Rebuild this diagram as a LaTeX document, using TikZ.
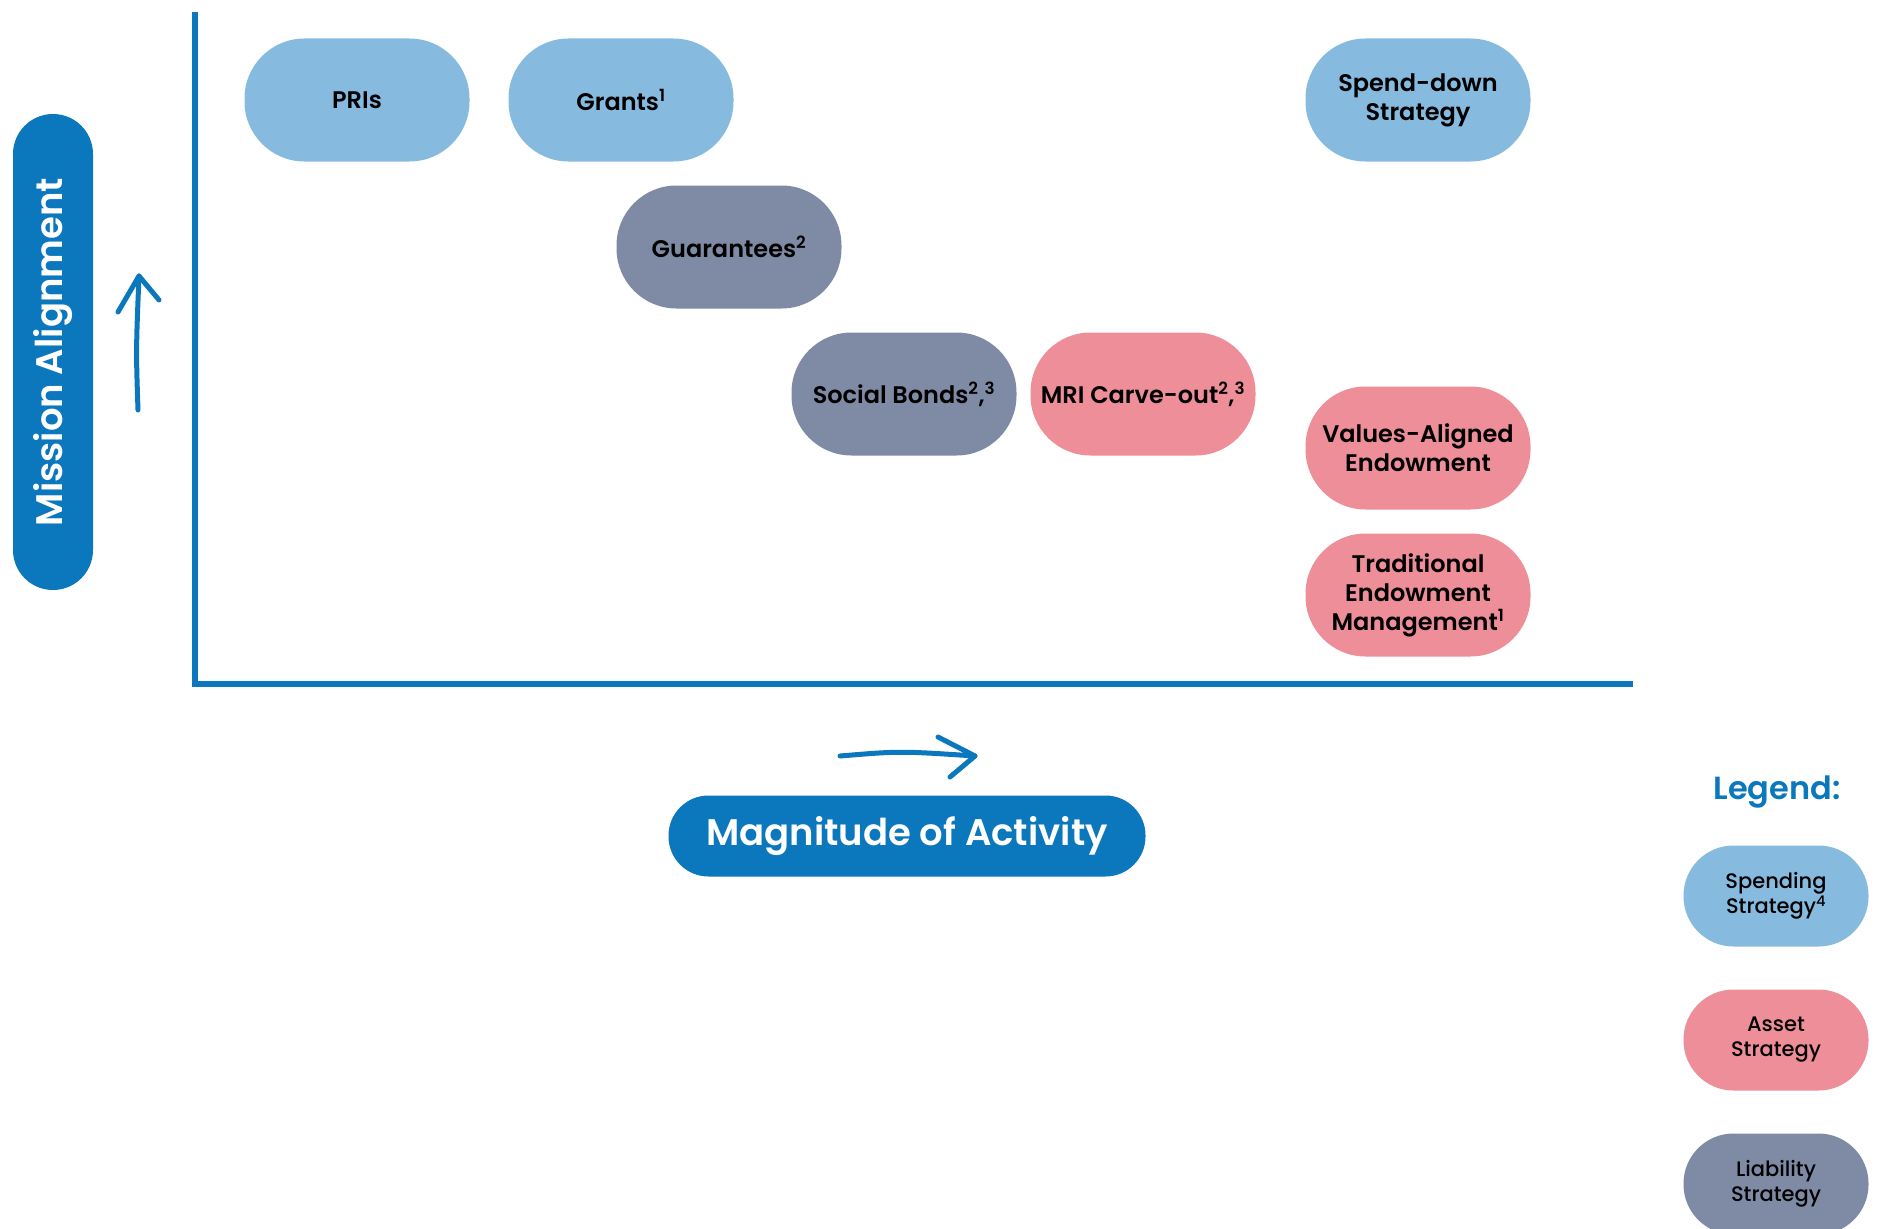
\documentclass[tikz,border=0pt]{standalone}
\usepackage{fontspec}
\setmainfont{Poppins}[BoldFont=Poppins SemiBold]
\newfontfamily\legfont{Poppins Medium}
\usepackage{xcolor}
\usetikzlibrary{calc}

\definecolor{mainblue}{HTML}{0B77BD}
\definecolor{spendblue}{HTML}{87BADF}
\definecolor{assetpink}{HTML}{ED8E98}
\definecolor{liabgray}{HTML}{7F8AA5}

\begin{document}
\begin{tikzpicture}[x=1pt,y=-1pt,
  pill/.style={rounded corners=60pt,minimum width=225pt,minimum height=123pt,
    inner sep=0pt,align=center,text=black,font=\fontsize{24}{29}\selectfont\bfseries},
  spend/.style={pill,fill=spendblue},
  asset/.style={pill,fill=assetpink},
  liab/.style={pill,fill=liabgray},
  legpill/.style={rounded corners=50pt,minimum width=185pt,minimum height=101pt,
    inner sep=0pt,align=center,text=black,font=\fontsize{21}{25}\selectfont\legfont},
  bar/.style={fill=mainblue,text=white,inner sep=0pt,
    font=\fontsize{37}{40}\selectfont\bfseries},
  axis/.style={draw=mainblue,line width=6pt},
  hand/.style={draw=mainblue,line width=5pt,line cap=round,line join=round}]

\useasboundingbox (0,0) rectangle (1878,1228);

% axes
\coordinate (ytop) at (195,12);
\coordinate (o) at (195,684);
\coordinate (xend) at (1633,684);
\draw [axis] (ytop) -- (o) -- (xend);

% strategies
\node [spend] (pri) at (357,100) {PRIs};
\node [spend] (grants) at (621,100) {Grants\textsuperscript{1}};
\node [spend] (spenddown) at (1418,100) {Spend-down\\Strategy};
\node [liab] (guar) at (729,247) {Guarantees\textsuperscript{2}};
\node [liab] (social) at (904,394) {Social Bonds\textsuperscript{2},\textsuperscript{3}};
\node [asset] (mri) at (1143,394) {MRI Carve-out\textsuperscript{2},\textsuperscript{3}};
\node [asset] (values) at (1418,448) {Values-Aligned\\Endowment};
\node [asset] (trad) at (1418,595) {Traditional\\Endowment\\Management\textsuperscript{1}};

% axis labels
\node [bar,rounded corners=40pt,rotate=90,minimum width=476pt,minimum height=80pt] (mission) at (53,352) {Mission Alignment};
\node [bar,rounded corners=40pt,minimum width=477pt,minimum height=81pt] (magnitude) at (907,836) {Magnitude of Activity};

% hand drawn arrows
\coordinate (u1) at (138,410);
\coordinate (u2) at (139,276);
\coordinate (u3) at (118,312);
\coordinate (u4) at (159,300);
\draw [hand] (u1) .. controls (136,350) .. (u2);
\draw [hand] (u3) -- (u2) -- (u4);

\coordinate (r1) at (840,756);
\coordinate (r2) at (975,756);
\coordinate (r3) at (938,737);
\coordinate (r4) at (950,777);
\draw [hand] (r1) .. controls (900,751) .. (r2);
\draw [hand] (r3) -- (r2) -- (r4);

% legend
\node [text=mainblue,font=\fontsize{32}{36}\selectfont\bfseries] (legend) at (1777,792) {Legend:};
\node [legpill,fill=spendblue] (legspend) at (1776,896) {Spending\\Strategy\textsuperscript{4}};
\node [legpill,fill=assetpink] (legasset) at (1776,1040) {Asset\\Strategy};
\node [legpill,fill=liabgray] (legliab) at (1776,1184) {Liability\\Strategy};
\end{tikzpicture}
\end{document}
